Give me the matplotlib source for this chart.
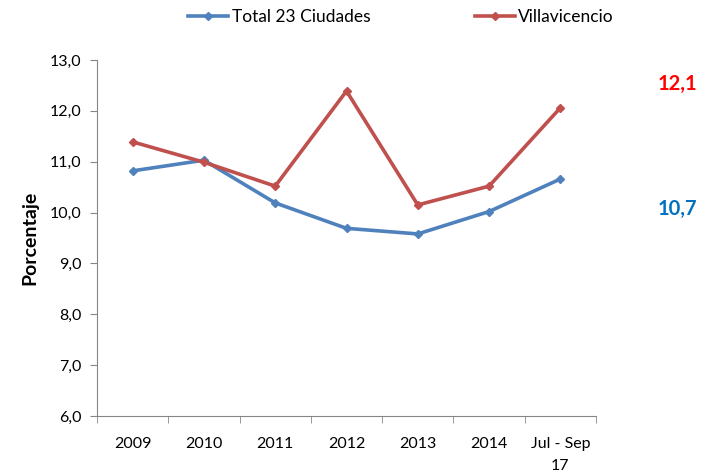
import matplotlib
matplotlib.use("Agg")
import matplotlib.pyplot as plt
import numpy as np

# values
periodos = ["2009", "2010", "2011", "2012", "2013", "2014", "Jul - Sep\n17"]
total_23 = [10.82, 11.03, 10.19, 9.69, 9.58, 10.02, 10.66]
villavicencio = [11.39, 10.99, 10.52, 12.39, 10.15, 10.52, 12.06]

plt.rcParams['font.family'] = ['Lato', 'DejaVu Sans']

fig = plt.figure(figsize=(7.02, 4.74), dpi=100)
ax = fig.add_axes([97 / 702, 1 - 416 / 474, 499 / 702, 356 / 474])

x = np.arange(len(periodos))
l1, = ax.plot(x, total_23, color='#4F81BD', lw=2.6, marker='D', ms=4,
              label='Total 23 Ciudades')
l2, = ax.plot(x, villavicencio, color='#C0504D', lw=2.6, marker='D', ms=4,
              label='Villavicencio')

ax.set_xlim(-0.5, len(periodos) - 0.5)
ax.set_ylim(6, 13)
ax.set_yticks(np.arange(6, 13.1, 1))
ax.set_yticklabels([f"{v:.1f}".replace('.', ',') for v in np.arange(6, 13.1, 1)])
ax.set_xticks(x)
ax.set_xticklabels(periodos, linespacing=1.75)
ax.set_xticks(np.arange(-0.5, len(periodos), 1), minor=True)
ax.tick_params(axis='x', which='major', length=0, pad=15, labelsize=11.5)
ax.tick_params(axis='x', which='minor', length=5, color='#868686')
ax.tick_params(axis='y', length=5, color='#868686', labelsize=11.5, pad=6)

for s in ['top', 'right']:
    ax.spines[s].set_visible(False)
for s in ['left', 'bottom']:
    ax.spines[s].set_color('#868686')

ax.set_ylabel('Porcentaje', fontsize=14, fontweight='bold', labelpad=8)

# end labels
ax.annotate(f"{villavicencio[-1]:.1f}".replace('.', ','), (x[-1], villavicencio[-1]),
            xytext=(117, 24), textcoords='offset pixels', ha='center', va='center',
            color='#FF0000', fontsize=14.5, fontweight='bold')
ax.annotate(f"{total_23[-1]:.1f}".replace('.', ','), (x[-1], total_23[-1]),
            xytext=(117, -30), textcoords='offset pixels', ha='center', va='center',
            color='#0070C0', fontsize=14.5, fontweight='bold')

fig.legend(handles=[l1, l2], loc='center', bbox_to_anchor=(401 / 702, 1 - 17 / 474),
           ncol=2, frameon=False, fontsize=12.5, columnspacing=6, handlelength=2.3,
           handletextpad=0.2)

fig.savefig('out.png', dpi=100)
